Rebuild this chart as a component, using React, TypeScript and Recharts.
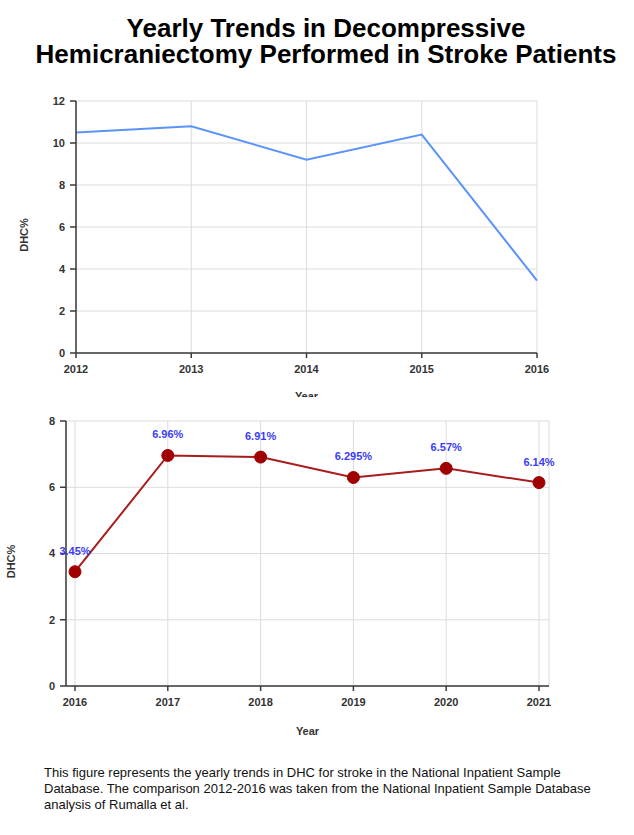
import { CartesianGrid, LabelList, Line, LineChart, XAxis, YAxis } from "recharts"

const topYears = ["2012", "2013", "2014", "2015", "2016"]
const topDhc = [10.5, 10.8, 9.2, 10.4, 3.45]
const topTicks = [0, 2, 4, 6, 8, 10, 12]

const bottomYears = ["2016", "2017", "2018", "2019", "2020", "2021"]
const bottomDhc = [3.45, 6.96, 6.91, 6.295, 6.57, 6.14]
const bottomTicks = [0, 2, 4, 6, 8]

const titleLines = ["Yearly Trends in Decompressive", "Hemicraniectomy Performed in Stroke Patients"]

const topData = topYears.map((year, i) => ({ year, dhc: topDhc[i] }))
const bottomData = bottomYears.map((year, i) => ({ year, dhc: bottomDhc[i] }))

const font = "Arial, 'Liberation Sans', sans-serif"
const axisColor = "#3a3a3a"
const tickStyle = { fontSize: 11, fontWeight: "bold", fill: "#333", fontFamily: font }

// axis titles drawn by hand so they can sit where the reference puts them
const axisTitle = (text: string, dx: number, dy: number, vertical: boolean) => (props: any) => {
  const vb = props.viewBox || {}
  const cx = vertical ? dx : vb.x + vb.width / 2
  const cy = vertical ? vb.y + vb.height / 2 + dy : dy
  return (
    <text
      x={cx}
      y={cy}
      textAnchor="middle"
      dominantBaseline={vertical ? "central" : "auto"}
      transform={vertical ? `rotate(-90, ${cx}, ${cy})` : undefined}
      style={{ fontSize: 11, fontWeight: "bold", fill: "#333", fontFamily: font }}
    >
      {text}
    </text>
  )
}

const TopChart = () => (
  <LineChart
    width={634}
    height={307}
    data={topData}
    margin={{ top: 11, right: 97, bottom: 14, left: 16 }}
  >
    <CartesianGrid stroke="#dcdcdc" strokeWidth={1} />
    <XAxis
      dataKey="year"
      padding={{ left: 0, right: 0 }}
      stroke={axisColor}
      strokeWidth={1.5}
      tickSize={5}
      tickMargin={7}
      tick={tickStyle}
      label={{ content: axisTitle("Year", 0, 310, false) }}
    />
    <YAxis
      width={60}
      domain={[0, 12]}
      ticks={topTicks}
      interval={0}
      stroke={axisColor}
      strokeWidth={1.5}
      tickSize={6}
      tickMargin={5}
      tick={tickStyle}
      label={{ content: axisTitle("DHC%", 24, 8, true) }}
    />
    <Line
      type="linear"
      dataKey="dhc"
      stroke="#5a94f8"
      strokeWidth={2}
      dot={false}
      isAnimationActive={false}
    />
  </LineChart>
)

const BottomChart = () => (
  <LineChart
    width={634}
    height={340}
    data={bottomData}
    margin={{ top: 16, right: 85, bottom: 29, left: 10 }}
  >
    <CartesianGrid stroke="#dcdcdc" strokeWidth={1} />
    <XAxis
      dataKey="year"
      padding={{ left: 9, right: 10 }}
      stroke={axisColor}
      strokeWidth={1.5}
      tickSize={5}
      tickMargin={7}
      tick={tickStyle}
      label={{ content: axisTitle("Year", 0, 330, false) }}
    />
    <YAxis
      width={56}
      domain={[0, 8]}
      ticks={bottomTicks}
      interval={0}
      stroke={axisColor}
      strokeWidth={1.5}
      tickSize={6}
      tickMargin={5}
      tick={tickStyle}
      label={{ content: axisTitle("DHC%", 11, 8, true) }}
    />
    <Line
      type="linear"
      dataKey="dhc"
      stroke="#a81c1c"
      strokeWidth={2}
      dot={{ r: 6, fill: "#a00000", stroke: "#a00000", strokeWidth: 1 }}
      isAnimationActive={false}
    >
      <LabelList
        dataKey="dhc"
        position="top"
        offset={17}
        formatter={(v: any) => `${v}%`}
        style={{ fontSize: 11, fontWeight: "bold", fill: "#3b3bf7", fontFamily: font }}
      />
    </Line>
  </LineChart>
)

export default function App() {
  return (
    <div
      style={{
        position: "absolute",
        left: 0,
        top: 0,
        width: 634,
        height: 835,
        background: "#fff",
        fontFamily: font,
        overflow: "hidden",
      }}
    >
      {titleLines.map((line, i) => (
        <div
          key={line}
          style={{
            position: "absolute",
            left: 9,
            top: 16 + i * 26,
            width: 634,
            height: 24,
            textAlign: "center",
            fontSize: 26,
            lineHeight: "24px",
            fontWeight: "bold",
            color: "#000",
            whiteSpace: "nowrap",
          }}
        >
          {line}
        </div>
      ))}
      <div style={{ position: "absolute", left: 0, top: 90 }}>
        <TopChart />
      </div>
      <div style={{ position: "absolute", left: 0, top: 405 }}>
        <BottomChart />
      </div>
      <div
        style={{
          position: "absolute",
          left: 44,
          top: 765,
          width: 580,
          fontSize: 13,
          lineHeight: "16px",
          color: "#111",
        }}
      >
        This figure represents the yearly trends in DHC for stroke in the National Inpatient Sample
        <br />
        Database. The comparison 2012-2016 was taken from the National Inpatient Sample Database
        <br />
        analysis of Rumalla et al.
      </div>
    </div>
  )
}
